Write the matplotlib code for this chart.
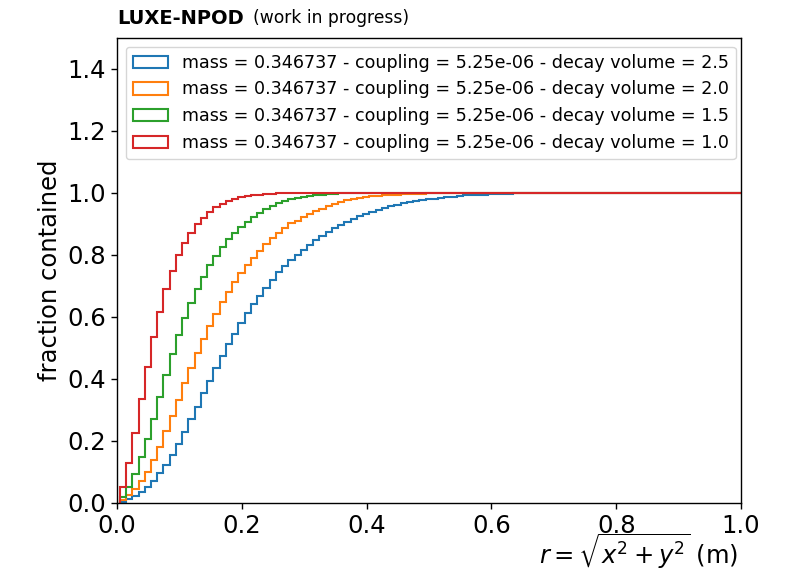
import numpy as np
import matplotlib
matplotlib.use("Agg")
import matplotlib.pyplot as plt
from matplotlib.patches import Patch

# histogram binning (r in metres)
bin_start = 0.0045
bin_width = 0.01
n_bins = 100

labels = [
    "mass = 0.346737 - coupling = 5.25e-06 - decay volume = 2.5",
    "mass = 0.346737 - coupling = 5.25e-06 - decay volume = 2.0",
    "mass = 0.346737 - coupling = 5.25e-06 - decay volume = 1.5",
    "mass = 0.346737 - coupling = 5.25e-06 - decay volume = 1.0",
]
colors = ["#1f77b4", "#ff7f0e", "#2ca02c", "#d62728"]

# cumulative fraction contained per bin
frac_dv25 = [0.004, 0.012, 0.023, 0.037, 0.053, 0.072, 0.096, 0.123, 0.155, 0.190,
             0.230, 0.270, 0.311, 0.354, 0.395, 0.434, 0.475, 0.513, 0.545, 0.580,
             0.612, 0.641, 0.668, 0.693, 0.720, 0.744, 0.765, 0.784, 0.801, 0.817,
             0.833, 0.847, 0.862, 0.875, 0.887, 0.897, 0.906, 0.916, 0.925, 0.932,
             0.939, 0.945, 0.952, 0.957, 0.962, 0.967, 0.971, 0.974, 0.977, 0.980,
             0.982, 0.984, 0.986, 0.988, 0.990, 0.992, 0.993, 0.994, 0.995, 0.996,
             0.997, 0.998, 0.998, 0.999, 0.999] + [1.0] * 35
frac_dv20 = [0.010, 0.026, 0.045, 0.071, 0.101, 0.139, 0.182, 0.231, 0.281, 0.332,
             0.386, 0.437, 0.485, 0.529, 0.571, 0.610, 0.649, 0.682, 0.714, 0.743,
             0.768, 0.791, 0.813, 0.834, 0.854, 0.872, 0.888, 0.902, 0.911, 0.922,
             0.932, 0.941, 0.949, 0.957, 0.965, 0.971, 0.976, 0.981, 0.984, 0.987,
             0.989, 0.991, 0.993, 0.994, 0.995, 0.996, 0.997, 0.998, 0.998, 0.999,
             0.999] + [1.0] * 49
frac_dv15 = [0.020, 0.053, 0.094, 0.147, 0.208, 0.272, 0.343, 0.413, 0.480, 0.541,
             0.596, 0.644, 0.690, 0.730, 0.768, 0.798, 0.827, 0.852, 0.872, 0.891,
             0.907, 0.921, 0.934, 0.947, 0.958, 0.967, 0.974, 0.980, 0.984, 0.988,
             0.991, 0.993, 0.995, 0.997, 0.998, 0.999, 0.999] + [1.0] * 63
frac_dv10 = [0.053, 0.128, 0.225, 0.334, 0.440, 0.537, 0.617, 0.689, 0.748, 0.800,
             0.838, 0.870, 0.899, 0.920, 0.938, 0.954, 0.965, 0.974, 0.981, 0.986,
             0.990, 0.993, 0.995, 0.997, 0.998, 0.999, 0.999] + [1.0] * 73

series = [frac_dv25, frac_dv20, frac_dv15, frac_dv10]

edges = bin_start + bin_width * np.arange(n_bins + 1)

fig = plt.figure(figsize=(7.87, 5.72), dpi=100)
ax = fig.add_axes([117 / 787, (572 - 503) / 572, 624 / 787, 465 / 572])

for vals, lab, col in zip(series, labels, colors):
    ax.stairs(vals, edges, baseline=0, fill=False, color=col, linewidth=1.5)

ax.set_xlim(0, 1.0)
ax.set_ylim(0, 1.5)
ax.set_yticks(np.arange(0, 1.41, 0.2))
ax.set_xticks(np.arange(0, 1.01, 0.2))
ax.tick_params(labelsize=17.5, length=4.5, width=1.0)
for s in ax.spines.values():
    s.set_linewidth(1.0)

ax.set_ylabel("fraction contained", fontsize=17.5)
ax.set_xlabel(r"$r = \sqrt{x^2 + y^2}$ (m)", fontsize=17.5, loc="right")
ax.xaxis.set_label_coords(0.995, -0.062)
ax.xaxis.label.set_va("top")

handles = [Patch(facecolor="none", edgecolor=c, linewidth=1.5) for c in colors]
ax.legend(handles, labels, loc="upper left", fontsize=12.6, frameon=True)

fig.text(117 / 787, 1 - 18 / 572, "LUXE-NPOD", fontsize=14, fontweight="bold",
         ha="left", va="center")
fig.text(253 / 787, 1 - 18 / 572, "(work in progress)", fontsize=12.3,
         ha="left", va="center")

fig.savefig("out.png", dpi=100)
